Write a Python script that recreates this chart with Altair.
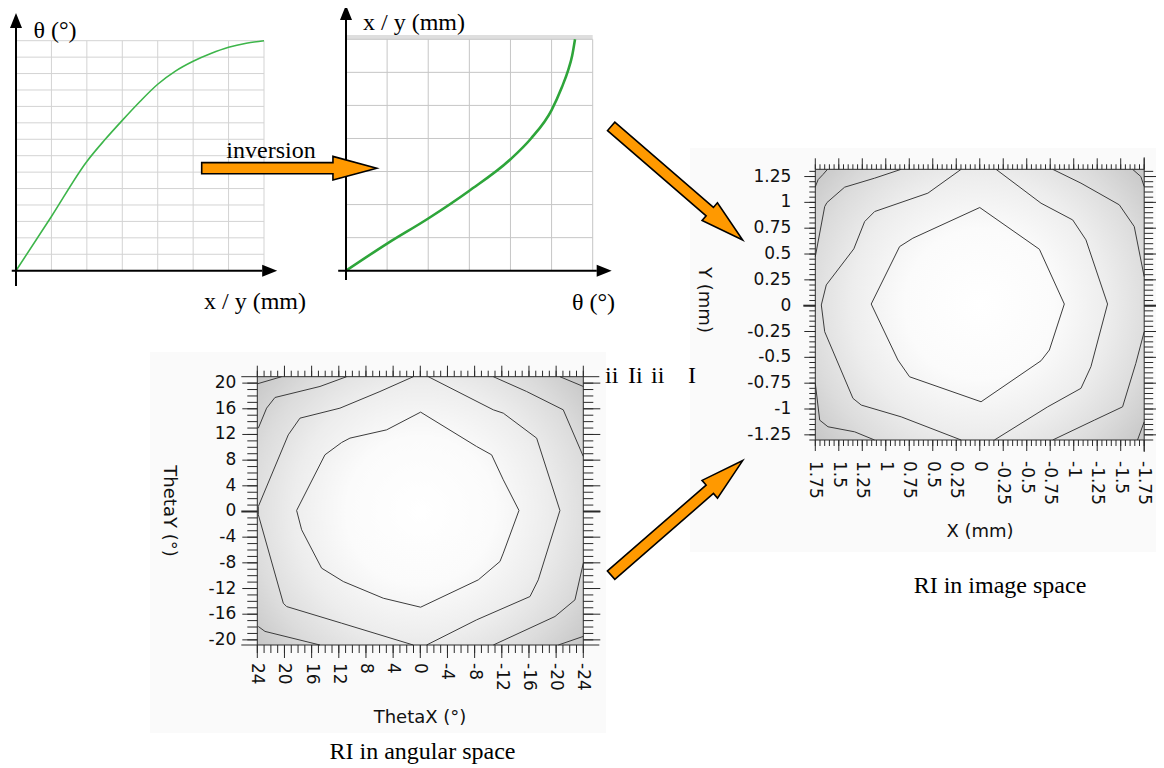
import altair as alt
import pandas as pd

# ---------------- data ----------------
# Panel 1: theta (grid units) as a function of x/y (grid units)
p1_xy = [0, 1, 2, 2.5, 3, 3.5, 4, 4.5, 5, 5.5, 6, 6.5, 7]
p1_theta = [0, 3.3, 6.65, 7.95, 9.15, 10.3, 11.35, 12.15, 12.75, 13.22, 13.6, 13.85, 14.0]
p1_grid_x = [1, 2, 3, 4, 5, 6, 7]
p1_grid_y = [1, 2, 3, 4, 5, 6, 7, 8, 9, 10, 11, 12, 13, 14]

# Panel 2: x/y (grid units) as a function of theta (grid units)
p2_theta = [0, 1, 2, 3, 4, 4.5, 5, 5.25, 5.4, 5.5, 5.57]
p2_xy = [0, 0.82, 1.58, 2.42, 3.37, 4.0, 4.86, 5.55, 6.05, 6.5, 7.0]
p2_grid_x = [1, 2, 3, 4, 5, 6]
p2_grid_y = [1, 2, 3, 4, 5, 6, 7]

# RI in image space: axis values and contour lines (mm)
img_x_labels = [1.75, 1.5, 1.25, 1, 0.75, 0.5, 0.25, 0, -0.25, -0.5, -0.75, -1, -1.25, -1.5, -1.75]
img_y_labels = [1.25, 1, 0.75, 0.5, 0.25, 0, -0.25, -0.5, -0.75, -1, -1.25]
img_x_minor = [round(-1.75 + 0.05 * i, 2) for i in range(71)]
img_y_minor = [round(-1.3 + 0.05 * i, 2) for i in range(53)]
img_contours = {
    "inner": [(0.0, 0.95), (-0.635, 0.546), (-0.90, 0.016), (-0.741, -0.429), (-0.652, -0.533),
              (-0.014, -0.93), (0.747, -0.688), (0.871, -0.526), (1.155, 0.016), (0.853, 0.572),
              (0.712, 0.653), (0.0, 0.95)],
    "mid_left": [(0.198, 1.32), (0.552, 1.089), (1.119, 0.911), (1.225, 0.814), (1.34, 0.55),
                 (1.633, 0.201), (1.686, 0.007), (1.65, -0.252), (1.349, -0.897), (1.261, -0.962),
                 (0.836, -1.076), (0.198, -1.3)],
    "mid_right": [(-0.173, 1.32), (-0.652, 0.992), (-0.989, 0.83), (-1.13, 0.637), (-1.36, 0.016),
                  (-1.183, -0.591), (-1.077, -0.8), (-0.723, -0.979), (-0.156, -1.3)],
    "outer_tl": [(0.836, 1.32), (1.119, 1.234), (1.438, 1.147), (1.626, 0.998), (1.65, 0.959), (1.75, 0.475)],
    "outer_bl": [(1.75, -0.752), (1.703, -1.108), (1.615, -1.172), (1.331, -1.221), (1.119, -1.3)],
    "outer_tr": [(-0.776, 1.32), (-1.077, 1.186), (-1.485, 0.976), (-1.644, 0.766), (-1.75, 0.281)],
    "outer_br": [(-1.75, -0.252), (-1.661, -0.558), (-1.52, -0.979), (-1.219, -1.108), (-0.776, -1.3)],
    "corner_tl": [(1.75, 1.15), (1.72, 1.22), (1.668, 1.27), (1.62, 1.32)],
    "corner_tr": [(-1.626, 1.32), (-1.714, 1.25), (-1.75, 1.153)],
    "corner_br": [(-1.75, -1.124), (-1.679, -1.3)],
}

# RI in angular space: axis values and contour lines (degrees)
ang_x_labels = [24, 20, 16, 12, 8, 4, 0, -4, -8, -12, -16, -20, -24]
ang_y_labels = [20, 16, 12, 8, 4, 0, -4, -8, -12, -16, -20]
ang_x_minor = list(range(-24, 25))
ang_y_minor = list(range(-20, 21))
ang_contours = {
    "inner": [(-0.05, 15.48), (4.96, 12.72), (10.36, 11.43), (11.58, 10.75), (14.04, 8.83),
              (18.21, 0.16), (17.47, -2.85), (14.53, -8.83), (11.34, -10.91), (5.45, -13.51),
              (-0.05, -14.91), (-8.54, -10.65), (-11.73, -7.79), (-12.22, -6.49), (-14.53, 0.16),
              (-12.22, 4.94), (-10.5, 8.83), (-8.29, 10.13), (-0.05, 15.48)],
    "mid_left": [(1.03, 21.0), (5.94, 18.69), (11.83, 16.1), (17.72, 14.54), (19.44, 11.94),
                 (23.85, 0.78), (23.85, -0.51), (20.17, -14.29), (19.68, -14.81), (11.58, -17.4),
                 (1.03, -20.8)],
    "mid_right": [(-1.18, 21.0), (-10.75, 15.84), (-12.22, 15.32), (-17.13, 11.43), (-20.56, 0.16),
                  (-17.37, -10.65), (-16.15, -13.25), (-8.29, -16.88), (-0.93, -20.8)],
    "outer_tl": [(23.85, 12.98), (22.63, 16.1), (21.4, 17.76), (14.77, 19.48), (10.85, 21.0)],
    "outer_bl": [(23.85, -17.92), (22.87, -18.68), (14.77, -20.8)],
    "outer_tr": [(-10.75, 21.0), (-15.66, 18.69), (-21.05, 15.84), (-24, 8.57)],
    "outer_br": [(-24, -8.05), (-22.77, -13.77), (-19.83, -16.36), (-10.75, -20.8)],
    "corner_tl": [(24, 19.89), (20.42, 21.0)],
    "corner_tr": [(-20.56, 21.0), (-24, 19.48)],
    "corner_br": [(-24, -19.46), (-20.32, -20.8)],
}

# Annotations placed on the page (page pixel coordinates)
serif_text = ["θ (°)", "x / y (mm)", "x / y (mm)", "θ (°)", "inversion",
              "RI in image space", "RI in angular space"]
serif_x = [55, 255, 414, 593.5, 271, 1000, 422.5]
serif_y = [37.5, 309, 29.5, 310, 157.5, 592.5, 759]

stray_text = ["ii", "Ii", "ii", "I"]
stray_x = [605, 628, 651, 688]
stray_y = [383, 383, 383, 383]

sans_titles = ["X (mm)", "Y (mm)", "ThetaX (°)", "ThetaY (°)"]
sans_title_x = [980, 704, 420, 169]
sans_title_y = [532, 300, 718, 511]
sans_title_angle = [0, 90, 0, 90]

arrow_cx = [289.2, 676.9, 676.9]
arrow_cy = [168.2, 183.2, 517.9]
arrow_size = [175 ** 2, 173.8 ** 2, 174.4 ** 2]
arrow_angle = [0, 40.85, 318.95]

backdrop_x0 = [690, 150]
backdrop_x1 = [1156, 606]
backdrop_y0 = [148, 352]
backdrop_y1 = [552, 733]

# ---------------- styles ----------------
ARROW = "M -1 -0.064 L 0.5 -0.064 L 0.5 -0.135 L 1 0 L 0.5 0.135 L 0.5 0.064 L -1 0.064 Z"
HEAD = "M 1 0 L -1 -0.8 L -1 0.8 Z"
SANS = "DejaVu Sans"
SERIF = "Liberation Serif"
TICK = "#2a2a2a"
GRAD = {
    "gradient": "radial", "x1": 0.5, "y1": 0.5, "r1": 0, "x2": 0.5, "y2": 0.5, "r2": 0.65,
    "stops": [
        {"offset": 0, "color": "#ffffff"},
        {"offset": 0.35, "color": "#fbfbfb"},
        {"offset": 0.6, "color": "#ededed"},
        {"offset": 0.8, "color": "#dcdcdc"},
        {"offset": 1, "color": "#c6c6c6"},
    ],
}


def S(dom, rng):
    return alt.Scale(domain=dom, range=rng, nice=False, zero=False)


# canvas (page pixel) scales and panel scales
CX, CY = S([8, 1156], [0, 1148]), S([8, 768], [0, 760])
P1X, P1Y = S([0, 7], [8, 256]), S([0, 14], [262.7, 32.7])
P2X, P2Y = S([0, 6], [338, 584.7]), S([0, 7], [262.7, 31.3])
IX, IY = S([-1.75, 1.75], [1136.2, 807.3]), S([-1.3, 1.32], [432, 161.3])
AX, AY = S([-24, 24], [575.3, 249.3]), S([-20.8, 21.0], [637, 368.7])


def seg(rows, XS, YS, **mk):
    df = pd.DataFrame(rows, columns=["x0", "x1", "y0", "y1"])
    return alt.Chart(df).mark_rule(**mk).encode(
        x=alt.X("x0:Q", scale=XS, axis=None), x2="x1:Q",
        y=alt.Y("y0:Q", scale=YS, axis=None), y2="y1:Q")


def ticks(vals, side, edge, length, XS, YS, width=1):
    df = pd.DataFrame({"v": vals, "e": [edge] * len(vals)})
    if side in ("top", "bottom"):
        off = -length if side == "top" else length
        return alt.Chart(df).mark_rule(color=TICK, strokeWidth=width, y2Offset=off).encode(
            x=alt.X("v:Q", scale=XS, axis=None),
            y=alt.Y("e:Q", scale=YS, axis=None), y2="e:Q")
    off = -length if side == "left" else length
    return alt.Chart(df).mark_rule(color=TICK, strokeWidth=width, x2Offset=off).encode(
        x=alt.X("e:Q", scale=XS, axis=None), x2="e:Q",
        y=alt.Y("v:Q", scale=YS, axis=None))


def labels(vals, side, edge, offset, XS, YS):
    df = pd.DataFrame({"v": vals, "e": [edge] * len(vals), "s": ["%g" % v for v in vals]})
    if side == "bottom":
        return alt.Chart(df).mark_text(
            font=SANS, fontSize=17, color="#111", angle=90, align="left", baseline="middle",
            yOffset=offset).encode(
            x=alt.X("v:Q", scale=XS, axis=None), y=alt.Y("e:Q", scale=YS, axis=None), text="s:N")
    return alt.Chart(df).mark_text(
        font=SANS, fontSize=17, color="#111", align="right", baseline="middle",
        xOffset=-offset).encode(
        x=alt.X("e:Q", scale=XS, axis=None), y=alt.Y("v:Q", scale=YS, axis=None), text="s:N")


def contour_df(contours):
    rows = []
    for name, pts in contours.items():
        for i, (x, y) in enumerate(pts):
            rows.append({"path": name, "ord": i, "x": x, "y": y})
    return pd.DataFrame(rows)


def line_panel(xs, ys, gx, gy, xmax, ymax, XS, YS, curve_color, curve_w, grid_color, axis_rows, heads):
    vgrid = alt.Chart(pd.DataFrame({"x": gx, "y0": 0, "y1": ymax})).mark_rule(
        color=grid_color, strokeWidth=1).encode(
        x=alt.X("x:Q", scale=XS, axis=None), y=alt.Y("y0:Q", scale=YS, axis=None), y2="y1:Q")
    hgrid = alt.Chart(pd.DataFrame({"y": gy, "x0": 0, "x1": xmax})).mark_rule(
        color=grid_color, strokeWidth=1).encode(
        y=alt.Y("y:Q", scale=YS, axis=None), x=alt.X("x0:Q", scale=XS, axis=None), x2="x1:Q")
    curve = alt.Chart(pd.DataFrame({"x": xs, "y": ys})).mark_line(
        color=curve_color, strokeWidth=curve_w, interpolate="monotone").encode(
        x=alt.X("x:Q", scale=XS, axis=None), y=alt.Y("y:Q", scale=YS, axis=None))
    axes = seg(axis_rows, XS, YS, color="black", strokeWidth=2)
    hd = pd.DataFrame(heads, columns=["x", "y", "a"])
    head = alt.Chart(hd).mark_point(shape=HEAD, filled=True, color="black", opacity=1, size=225).encode(
        x=alt.X("x:Q", scale=XS, axis=None), y=alt.Y("y:Q", scale=YS, axis=None),
        angle=alt.Angle("a:Q", scale=None))
    return [vgrid, hgrid, curve, axes, head]


# ---------------- panel 1 ----------------
p1_layers = line_panel(p1_xy, p1_theta, p1_grid_x, p1_grid_y, 7, 14, P1X, P1Y,
                       "#3db54a", 1.6, "#d3d3d3",
                       [(0, 0, -0.93, 15.0), (-0.12, 6.95, 0, 0)],
                       [(0, 15.23, 270), (7.16, 0, 0)])
panel1 = alt.layer(*p1_layers)

# ---------------- panel 2 ----------------
band = alt.Chart(pd.DataFrame({"x0": [0], "x1": [6], "y0": [7], "y1": [7.13]})).mark_rect(
    color="#dedede").encode(
    x=alt.X("x0:Q", scale=P2X, axis=None), x2="x1:Q",
    y=alt.Y("y0:Q", scale=P2Y, axis=None), y2="y1:Q")
p2_layers = line_panel(p2_theta, p2_xy, p2_grid_x, p2_grid_y, 6, 7, P2X, P2Y,
                       "#2ea53a", 2.6, "#c6c6c6",
                       [(0, 0, -0.28, 7.6), (-0.19, 6.1, 0, 0)],
                       [(0, 7.81, 270), (6.28, 0, 0)])
panel2 = alt.layer(band, *p2_layers)


# ---------------- heatmap panels ----------------
def heat_panel(XS, YS, xl, xr, yb, yt, contours, xlabels, ylabels, xminor, yminor, tk, top_ext, right_ext):
    bg = alt.Chart(pd.DataFrame({"x0": [xl], "x1": [xr], "y0": [yb], "y1": [yt]})).mark_rect(
        fill=GRAD).encode(
        x=alt.X("x0:Q", scale=XS, axis=None), x2="x1:Q",
        y=alt.Y("y0:Q", scale=YS, axis=None), y2="y1:Q")
    cont = alt.Chart(contour_df(contours)).mark_line(color="#3c3c3c", strokeWidth=1).encode(
        x=alt.X("x:Q", scale=XS, axis=None), y=alt.Y("y:Q", scale=YS, axis=None),
        detail="path:N", order="ord:Q")
    layers = [bg, cont,
              ticks(yminor, "left", xl, tk["left_minor"], XS, YS),
              ticks(ylabels, "left", xl, tk["left_major"], XS, YS),
              ticks(yminor, "right", xr, tk["right_minor"], XS, YS),
              ticks(ylabels, "right", xr, tk["right_major"], XS, YS),
              ticks(xminor, "top", yt, tk["top_minor"], XS, YS),
              ticks(xlabels, "top", yt, tk["top_major"], XS, YS),
              ticks(xminor, "bottom", yb, tk["bottom_minor"], XS, YS),
              ticks(xlabels, "bottom", yb, tk["bottom_major"], XS, YS),
              ticks([0], "left", xl, tk["left_major"] + 1, XS, YS, width=2),
              ticks([0], "right", xr, tk["right_major"], XS, YS, width=2),
              seg([(xl, xr, yt, yt)], XS, YS, color=TICK, strokeWidth=1,
                  xOffset=-top_ext, x2Offset=top_ext),
              seg([(xl, xr, yb, yb)], XS, YS, color=TICK, strokeWidth=1,
                  xOffset=-top_ext, x2Offset=top_ext),
              seg([(xr, xr, yb, yt)], XS, YS, color=TICK, strokeWidth=1,
                  yOffset=right_ext, y2Offset=-right_ext),
              seg([(xl, xl, yb, yt)], XS, YS, color=TICK, strokeWidth=1),
              labels(ylabels, "left", xl, tk["left_major"] + tk["ypad"], XS, YS),
              labels(xlabels, "bottom", yb, tk["bottom_major"] + tk["xpad"], XS, YS)]
    return alt.layer(*layers)


img = heat_panel(
    IX, IY, 1.75, -1.75, -1.3, 1.32, img_contours, img_x_labels, img_y_labels,
    img_x_minor, img_y_minor,
    {"left_minor": 6, "left_major": 11, "right_minor": 9, "right_major": 13, "top_minor": 5,
     "top_major": 11, "bottom_minor": 6, "bottom_major": 11, "ypad": 13, "xpad": 10},
    0, 12)

ang = heat_panel(
    AX, AY, 24, -24, -20.8, 21.0, ang_contours, ang_x_labels, ang_y_labels,
    ang_x_minor, ang_y_minor,
    {"left_minor": 10, "left_major": 15, "right_minor": 10, "right_major": 17, "top_minor": 6,
     "top_major": 11, "bottom_minor": 8, "bottom_major": 13, "ypad": 6, "xpad": 5},
    16, 0)

# ---------------- page-level annotations ----------------
backdrop = alt.Chart(pd.DataFrame({"x0": backdrop_x0, "x1": backdrop_x1,
                                   "y0": backdrop_y0, "y1": backdrop_y1})).mark_rect(
    color="#fafafa").encode(
    x=alt.X("x0:Q", scale=CX, axis=None), x2="x1:Q",
    y=alt.Y("y0:Q", scale=CY, axis=None), y2="y1:Q")

arrows = alt.Chart(pd.DataFrame({"x": arrow_cx, "y": arrow_cy, "s": arrow_size, "a": arrow_angle})).mark_point(
    shape=ARROW, filled=True, color="#FF9900", stroke="black", strokeWidth=1.6, opacity=1).encode(
    x=alt.X("x:Q", scale=CX, axis=None), y=alt.Y("y:Q", scale=CY, axis=None),
    size=alt.Size("s:Q", scale=None, legend=None), angle=alt.Angle("a:Q", scale=None))

texts = alt.Chart(pd.DataFrame({"t": serif_text, "x": serif_x, "y": serif_y})).mark_text(
    font=SERIF, fontSize=24, align="center", baseline="alphabetic", color="black").encode(
    x=alt.X("x:Q", scale=CX, axis=None), y=alt.Y("y:Q", scale=CY, axis=None), text="t:N")

stray = alt.Chart(pd.DataFrame({"t": stray_text, "x": stray_x, "y": stray_y})).mark_text(
    font=SERIF, fontSize=24, align="left", baseline="alphabetic", color="black").encode(
    x=alt.X("x:Q", scale=CX, axis=None), y=alt.Y("y:Q", scale=CY, axis=None), text="t:N")

titles = alt.Chart(pd.DataFrame({"t": sans_titles, "x": sans_title_x, "y": sans_title_y,
                                 "a": sans_title_angle})).mark_text(
    font=SANS, fontSize=18, align="center", baseline="middle", color="#111").encode(
    x=alt.X("x:Q", scale=CX, axis=None), y=alt.Y("y:Q", scale=CY, axis=None), text="t:N",
    angle=alt.Angle("a:Q", scale=None))

overlay = alt.layer(arrows, texts, stray, titles)

chart = alt.layer(backdrop, panel1, panel2, img, ang, overlay).resolve_scale(
    x="independent", y="independent"
).properties(
    width=1148, height=760, padding=0, autosize=alt.AutoSizeParams(type="none")
).configure_view(stroke=None)

chart.save("out.html", embed_options={"renderer": "svg", "actions": False})
